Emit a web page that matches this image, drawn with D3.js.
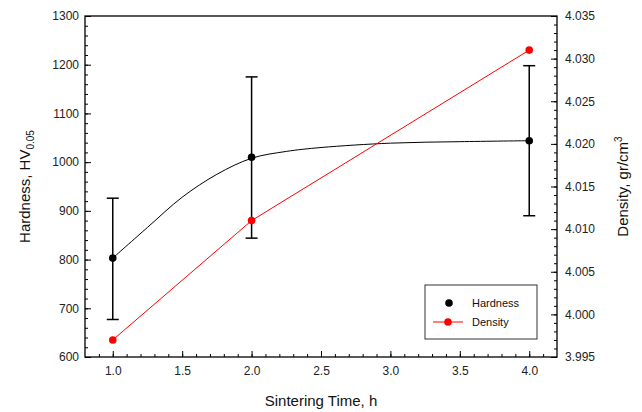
<!DOCTYPE html>
<html>
<head>
<meta charset="utf-8">
<script src="https://cdn.jsdelivr.net/npm/d3@7"></script>
<style>
  body { margin: 0; background: #fff; }
  svg { display: block; font-family: "Liberation Sans", Arial, sans-serif; }
  .tick text { font-size: 12px; fill: #222; }
</style>
</head>
<body>
<svg id="chart" width="642" height="412"></svg>
<script>
// measured points
var timeH = [1.0, 2.0, 4.0];
var hardness = [803, 1010, 1044];
var hardLow = [677, 844, 890];
var hardHigh = [926, 1175, 1198];
var density = [3.997, 4.011, 4.031];

// fitted hardness curve
var fitTime = [1.0, 1.25, 1.5, 1.75, 2.0, 2.25, 2.5, 3.0, 3.5, 4.0];
var fitHard = [803, 866, 928, 975, 1008, 1022, 1030, 1039, 1042, 1044];

var xTicks = [1.0, 1.5, 2.0, 2.5, 3.0, 3.5, 4.0];
var hardTicks = [600, 700, 800, 900, 1000, 1100, 1200, 1300];
var densTicks = [3.995, 4.000, 4.005, 4.010, 4.015, 4.020, 4.025, 4.030, 4.035];

const margin = {top: 16, right: 85, bottom: 55, left: 85};
var width = 642 - margin.left - margin.right;
var height = 412 - margin.top - margin.bottom;

var svg = d3.select('#chart');
var chart = svg.append('g')
  .attr('transform', 'translate(' + margin.left + ',' + margin.top + ')');

var x = d3.scaleLinear().domain([0.8, 4.2]).range([0, width]);
var y = d3.scaleLinear().domain([600, 1300]).range([height, 0]);
var y2 = d3.scaleLinear().domain([3.995, 4.035]).range([height, 0]);

// minor ticks
chart.append('g')
  .attr('transform', 'translate(0,' + height + ')')
  .call(d3.axisBottom(x).tickValues(d3.range(9, 42).map((d) => d / 10)).tickSize(-3).tickFormat(''));
chart.append('g')
  .call(d3.axisLeft(y).tickValues(d3.range(600, 1301, 20)).tickSize(-3).tickFormat(''));
chart.append('g')
  .attr('transform', 'translate(' + width + ',0)')
  .call(d3.axisRight(y2).tickValues(d3.range(3995, 4036, 1).map((d) => d / 1000)).tickSize(-3).tickFormat(''));

// major ticks
chart.append('g')
  .attr('transform', 'translate(0,' + height + ')')
  .call(d3.axisBottom(x).tickValues(xTicks).tickSize(-6).tickPadding(9).tickFormat(d3.format('.1f')));
chart.append('g')
  .call(d3.axisLeft(y).tickValues(hardTicks).tickSize(-6).tickPadding(6).tickFormat(d3.format('d')));
chart.append('g')
  .attr('transform', 'translate(' + width + ',0)')
  .call(d3.axisRight(y2).tickValues(densTicks).tickSize(-6).tickPadding(8).tickFormat(d3.format('.3f')));

chart.selectAll('.domain').remove();
chart.selectAll('.tick line').attr('stroke', '#000').attr('stroke-width', 1);

chart.append('rect')
  .attr('width', width).attr('height', height)
  .attr('fill', 'none').attr('stroke', '#000').attr('stroke-width', 1.3);

// hardness fit curve
var fitLine = d3.line()
  .x((d, i) => x(fitTime[i]))
  .y((d) => y(d))
  .curve(d3.curveCatmullRom.alpha(0.5));
chart.append('path')
  .attr('d', fitLine(fitHard))
  .attr('fill', 'none').attr('stroke', '#000').attr('stroke-width', 1);

// density line
var densLine = d3.line()
  .x((d, i) => x(timeH[i]))
  .y((d) => y2(d));
chart.append('path')
  .attr('d', densLine(density))
  .attr('fill', 'none').attr('stroke', '#ff0000').attr('stroke-width', 1);

// error bars
var bars = chart.selectAll('.err').data(timeH).enter().append('g').attr('class', 'err')
  .attr('stroke', '#000').attr('stroke-width', 1.5);
bars.append('line')
  .attr('x1', (d) => x(d)).attr('x2', (d) => x(d))
  .attr('y1', (d, i) => y(hardLow[i])).attr('y2', (d, i) => y(hardHigh[i]));
bars.append('line')
  .attr('x1', (d) => x(d) - 6).attr('x2', (d) => x(d) + 6)
  .attr('y1', (d, i) => y(hardHigh[i])).attr('y2', (d, i) => y(hardHigh[i]));
bars.append('line')
  .attr('x1', (d) => x(d) - 6).attr('x2', (d) => x(d) + 6)
  .attr('y1', (d, i) => y(hardLow[i])).attr('y2', (d, i) => y(hardLow[i]));

chart.selectAll('.hp').data(hardness).enter().append('circle')
  .attr('cx', (d, i) => x(timeH[i])).attr('cy', (d) => y(d))
  .attr('r', 3.8).attr('fill', '#000');
chart.selectAll('.dp').data(density).enter().append('circle')
  .attr('cx', (d, i) => x(timeH[i])).attr('cy', (d) => y2(d))
  .attr('r', 3.8).attr('fill', '#ff0000');

// axis titles
svg.append('text')
  .attr('x', margin.left + width / 2).attr('y', 406)
  .attr('text-anchor', 'middle').attr('font-size', 15).attr('fill', '#111')
  .text('Sintering Time, h');

var lt = svg.append('text')
  .attr('transform', 'translate(30,' + (margin.top + height / 2) + ') rotate(-90)')
  .attr('text-anchor', 'middle').attr('font-size', 15).attr('fill', '#111');
lt.append('tspan').text('Hardness, HV');
lt.append('tspan').attr('font-size', 10).attr('dy', 4).text('0.05');

var rt = svg.append('text')
  .attr('transform', 'translate(628,' + (margin.top + height / 2) + ') rotate(-90)')
  .attr('text-anchor', 'middle').attr('font-size', 15).attr('fill', '#111');
rt.append('tspan').text('Density, gr/cm');
rt.append('tspan').attr('font-size', 10).attr('dy', -6).text('3');

// legend
var lg = svg.append('g').attr('transform', 'translate(425,285)');
lg.append('rect').attr('width', 112).attr('height', 54)
  .attr('fill', '#fff').attr('stroke', '#333').attr('stroke-width', 1);
lg.append('circle').attr('cx', 24).attr('cy', 18).attr('r', 3.8).attr('fill', '#000');
lg.append('line').attr('x1', 8).attr('x2', 38).attr('y1', 37).attr('y2', 37)
  .attr('stroke', '#ff0000').attr('stroke-width', 1);
lg.append('circle').attr('cx', 23).attr('cy', 37).attr('r', 3.8).attr('fill', '#ff0000');
lg.append('text').attr('x', 47).attr('y', 22).attr('font-size', 11).attr('fill', '#111').text('Hardness');
lg.append('text').attr('x', 47).attr('y', 41).attr('font-size', 11).attr('fill', '#111').text('Density');
</script>
</body>
</html>
